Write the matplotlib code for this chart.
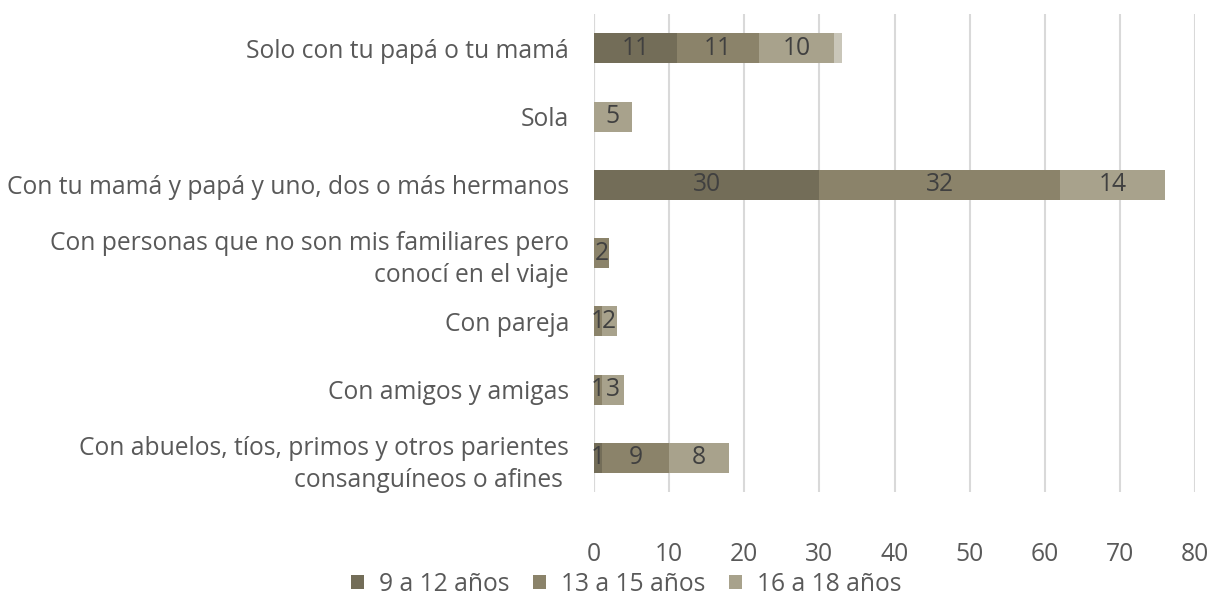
import numpy as np
import matplotlib.pyplot as plt

plt.rcParams['font.family'] = ['Open Sans', 'DejaVu Sans']

categorias = [
    "Solo con tu papá o tu mamá",
    "Sola",
    "Con tu mamá y papá y uno, dos o más hermanos",
    "Con personas que no son mis familiares pero\nconocí en el viaje",
    "Con pareja",
    "Con amigos y amigas",
    "Con abuelos, tíos, primos y otros parientes\nconsanguíneos o afines ",
]
series = ["9 a 12 años", "13 a 15 años", "16 a 18 años"]
v_9_12 = [11, 0, 30, 0, 0, 0, 1]
v_13_15 = [11, 0, 32, 2, 1, 1, 9]
v_16_18 = [10, 5, 14, 0, 2, 3, 8]
v_otro = [1, 0, 0, 0, 0, 0, 0]

colores = ['#736d58', '#8b836a', '#a8a28c', '#c9c6b9']
fs = 17.7

fig = plt.figure(figsize=(12.25, 5.95), dpi=100)
ax = fig.add_axes([0.485, 0.173, 0.4905, 0.803])

y = np.arange(len(categorias))
left = np.zeros(len(categorias))
datos = [v_9_12, v_13_15, v_16_18, v_otro]
for i, vals in enumerate(datos):
    vals = np.array(vals, dtype=float)
    lab = series[i] if i < 3 else '_nolegend_'
    bars = ax.barh(y, vals, left=left, height=0.44, color=colores[i], label=lab, zorder=3)
    if i < 3:
        for b, v in zip(bars, vals):
            if v > 0:
                ax.text(b.get_x() + b.get_width() / 2, b.get_y() + b.get_height() / 2,
                        '%d' % v, ha='center', va='center', fontsize=fs,
                        color='#404040', zorder=4)
    left += vals

ax.set_xlim(0, 80)
ax.set_ylim(-0.5, len(categorias) - 0.5)
ax.invert_yaxis()
ax.set_xticks(np.arange(0, 81, 10))
ax.set_yticks(y)
ax.set_yticklabels(categorias, fontsize=fs, color='#595959', linespacing=1.35)
ax.tick_params(axis='x', labelsize=fs, labelcolor='#595959', length=0, pad=36)
ax.tick_params(axis='y', length=0, pad=18)
ax.grid(axis='x', color='#d9d9d9', linewidth=1.5, zorder=0)
for s in ax.spines.values():
    s.set_visible(False)
ax.axvline(0, color='#d9d9d9', linewidth=1.5, zorder=1)

fig.legend(loc='lower center', bbox_to_anchor=(0.511, -0.04), ncol=3, frameon=False,
           fontsize=fs, labelcolor='#595959', handlelength=0.55, handleheight=0.55,
           columnspacing=0.95, handletextpad=0.6)

fig.savefig('out.png', dpi=100)
